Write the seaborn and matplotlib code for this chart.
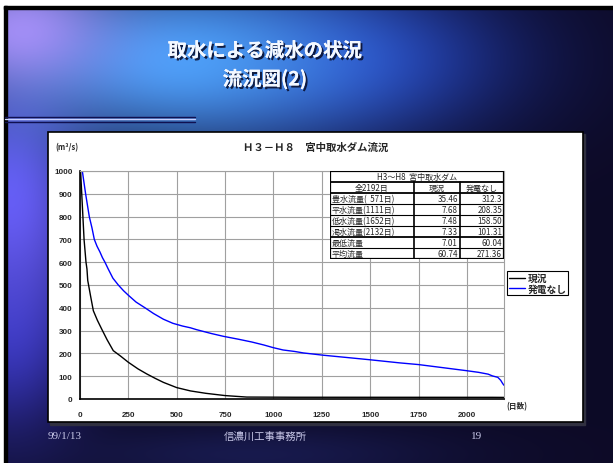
import numpy as np
import pandas as pd
import matplotlib
matplotlib.use("Agg")
import matplotlib.pyplot as plt
import matplotlib.patheffects as pe
from matplotlib.patches import Rectangle
from matplotlib.lines import Line2D
import seaborn as sns

# ---- flow duration curves (days exceeded, m3/s) ----
days_current = [0, 3, 9, 15, 21, 31, 36, 40, 55, 69, 90, 112, 140, 172, 210, 250,
                300, 345, 390, 431, 500, 571, 650, 750, 862, 1111, 1652, 2132, 2192]
flow_current = [1150, 1000, 900, 800, 700, 600, 570, 520, 450, 387, 345, 307, 260, 212,
                188, 161, 132, 110, 90, 73, 50, 35.46, 25, 15, 8.5, 7.68, 7.48, 7.33, 7.01]

days_nogen = [0, 12, 29, 48, 62, 74, 88, 103, 116, 129, 146, 170, 198, 225, 250, 290,
              336, 380, 431, 480, 530, 571, 603, 680, 741, 820, 888, 950, 1000, 1050,
              1111, 1155, 1258, 1380, 1500, 1652, 1750, 1880, 2000, 2060, 2110, 2132,
              2160, 2175, 2185, 2192]
flow_nogen = [1150, 1000, 900, 800, 750, 700, 670, 645, 620, 600, 570, 530, 500, 475,
              455, 425, 400, 375, 350, 332, 320, 312.3, 304, 287, 275, 262, 250, 237,
              225, 215, 208.35, 202, 192, 182, 172, 158.5, 151, 137, 124, 117, 109,
              101.31, 95, 82, 68, 60.04]

series_names = ["現況", "発電なし"]
series_colors = ["#000000", "#0000ff"]

x_ticks = [0, 250, 500, 750, 1000, 1250, 1500, 1750, 2000]
y_ticks = list(range(0, 1001, 100))

# ---- summary table ----
table_title = "H3～H8  宮中取水ダム"
table_header = ["全2192日", "現況", "発電なし"]
table_rows = ["豊水流量(  571日)", "平水流量(1111日)", "低水流量(1652日)",
              "渇水流量(2132日)", "最低流量", "平均流量"]
table_current = ["35.46", "7.68", "7.48", "7.33", "7.01", "60.74"]
table_nogen = ["312.3", "208.35", "158.50", "101.31", "60.04", "271.36"]

W, H = 613, 464
sns.set_style("white")
plt.rcParams["font.family"] = ["Noto Sans CJK JP", "DejaVu Sans"]

fig = plt.figure(figsize=(W / 100, H / 100), dpi=100)

# ---- slide background ----
bg_ax = fig.add_axes([0, 0, 1, 1])
yy, xx = np.mgrid[0:H, 0:W].astype(float)
img = np.zeros((H, W, 3))
img[:] = (0.05, 0.04, 0.15)


def blend(img, cx, cy, sx, sy, color, strength=1.0):
    w = strength * np.exp(-(((xx - cx) / sx) ** 2 + ((yy - cy) / sy) ** 2))
    w = w[..., None]
    return img * (1 - w) + np.array(color) * w


img = blend(img, 340, 60, 170, 80, (0.12, 0.22, 0.75), 0.9)
img = blend(img, 10, 330, 70, 110, (0.18, 0.18, 0.68), 1.0)
img = blend(img, 10, 200, 80, 130, (0.40, 0.36, 0.96), 1.0)
img = blend(img, 180, 60, 190, 85, (0.30, 0.62, 0.97), 1.0)
img = blend(img, 20, 30, 90, 60, (0.68, 0.58, 1.0), 0.9)
img = blend(img, 250, 455, 200, 30, (0.12, 0.14, 0.40), 0.6)
img = np.clip(img, 0, 1)
bg_ax.imshow(img, extent=[0, W, H, 0], aspect="auto", interpolation="bilinear")
bg_ax.set_xlim(0, W)
bg_ax.set_ylim(H, 0)
bg_ax.axis("off")

# white margin and black frame at top/left
bg_ax.add_patch(Rectangle((0, 0), W, 7, color="white", zorder=3))
bg_ax.add_patch(Rectangle((0, 0), 4, H, color="white", zorder=3))
bg_ax.add_patch(Rectangle((4, 7), W, 3, color="black", zorder=3))
bg_ax.add_patch(Rectangle((4, 7), 3, H, color="black", zorder=3))

# decorative rule under the title
for yline, col in [(117.5, "#101050"), (120, "#c8d0ff"), (122.5, "#101050")]:
    bg_ax.plot([5, 195], [yline, yline], color=col, lw=1.0, zorder=3)

shadow = [pe.withSimplePatchShadow(offset=(1.5, -1.5), shadow_rgbFace="#0a1030", alpha=0.9),
          pe.Normal()]
bg_ax.text(265, 52, "取水による減水の状況", color="#f4f8ff", fontsize=14, fontweight="bold",
           ha="center", va="center", path_effects=shadow)
bg_ax.text(265, 80, "流況図(2)", color="#f4f8ff", fontsize=14, fontweight="bold",
           ha="center", va="center", path_effects=shadow)

# footer
bg_ax.text(48, 437, "99/1/13", color="#c8c8e8", fontsize=8, family="Liberation Serif",
           ha="left", va="center")
bg_ax.text(265, 437, "信濃川工事事務所", color="#c8c8e8", fontsize=7.5,
           ha="center", va="center")
bg_ax.text(482, 437, "19", color="#c8c8e8", fontsize=8, family="Liberation Serif",
           ha="right", va="center")

# white chart panel
bg_ax.add_patch(Rectangle((50, 135), 535, 291, color="#303040", zorder=4))
bg_ax.add_patch(Rectangle((48, 133), 535, 290, facecolor="white", edgecolor="black",
                          lw=1.2, zorder=5))

# ---- main chart ----
ax = fig.add_axes([80 / W, 1 - 400 / H, 424 / W, 228 / H])
ax.set_zorder(6)
df = pd.concat([
    pd.DataFrame({"day": days_current, "flow": flow_current, "series": series_names[0]}),
    pd.DataFrame({"day": days_nogen, "flow": flow_nogen, "series": series_names[1]}),
])
sns.lineplot(data=df, x="day", y="flow", hue="series",
             palette=dict(zip(series_names, series_colors)),
             estimator=None, sort=False, linewidth=1.0, ax=ax, legend=False)
ax.set_xlim(0, 2192)
ax.set_ylim(0, 1000)
ax.set_xticks(x_ticks)
ax.set_yticks(y_ticks)
ax.set_xlabel("")
ax.set_ylabel("")
ax.grid(True, color="#a0a0a0", lw=0.8)
ax.set_axisbelow(True)
for s in ["top", "right"]:
    ax.spines[s].set_color("#a0a0a0")
    ax.spines[s].set_linewidth(0.8)
for s in ["left", "bottom"]:
    ax.spines[s].set_color("black")
    ax.spines[s].set_linewidth(1.2)
ax.tick_params(axis="both", direction="out", length=2.5, width=0.8, color="black",
               labelsize=5.8)
for lab in ax.get_xticklabels() + ax.get_yticklabels():
    lab.set_fontweight("bold")
    lab.set_family("Liberation Sans")
ax.tick_params(axis="x", pad=6)
ax.tick_params(axis="y", pad=3)

fig.text(316 / W, 1 - 148 / H, "Ｈ３－Ｈ８　宮中取水ダム流況", fontsize=7.5,
         fontweight="bold", ha="center", va="center", zorder=7)
fig.text(55 / W, 1 - 148 / H, "(m³/s)", fontsize=5.5, fontweight="bold",
         ha="left", va="center", zorder=7)
fig.text(506 / W, 1 - 407 / H, "(日数)", fontsize=5.5, fontweight="bold",
         ha="left", va="center", zorder=7)

handles = [Line2D([], [], color=c, lw=1.0) for c in series_colors]
leg = fig.legend(handles, series_names, loc="upper left",
                 bbox_to_anchor=(507 / W, 1 - 272 / H), bbox_transform=fig.transFigure,
                 fancybox=False, framealpha=1, edgecolor="black",
                 prop={"size": 7, "weight": "bold"}, borderpad=0.2,
                 handlelength=1.6, handletextpad=0.3, labelspacing=0.05,
                 borderaxespad=0)
leg.get_frame().set_linewidth(0.8)
leg.set_zorder(8)

# ---- summary table ----
tx = fig.add_axes([330 / W, 1 - 260 / H, 174 / W, 88 / H])
tx.set_zorder(9)
tx.set_xlim(0, 174)
tx.set_ylim(8, 0)
tx.axis("off")
tx.add_patch(Rectangle((0, 0), 174, 8, facecolor="white", edgecolor="none"))
c1, c2 = 84, 130
tfs = 5.8
tx.text(87, 0.5, table_title, ha="center", va="center", fontsize=tfs)
for (x0, x1), t in zip([(0, c1), (c1, c2), (c2, 174)], table_header):
    tx.text((x0 + x1) / 2, 1.5, t, ha="center", va="center", fontsize=tfs)
for i, (name, v1, v2) in enumerate(zip(table_rows, table_current, table_nogen)):
    yc = 2.5 + i
    tx.text(2, yc, name, ha="left", va="center", fontsize=tfs)
    tx.text(c2 - 2, yc, v1, ha="right", va="center", fontsize=tfs)
    tx.text(172, yc, v2, ha="right", va="center", fontsize=tfs)
# grid lines
for r in range(1, 8):
    lw = 1.3 if r in (1, 2, 6) else 0.8
    tx.plot([0, 174], [r, r], color="black", lw=lw)
for cx in (c1, c2):
    tx.plot([cx, cx], [1, 8], color="black", lw=1.2)
tx.add_patch(Rectangle((0, 0), 174, 8, facecolor="none", edgecolor="black", lw=1.6))

fig.savefig("out.png", dpi=100)
